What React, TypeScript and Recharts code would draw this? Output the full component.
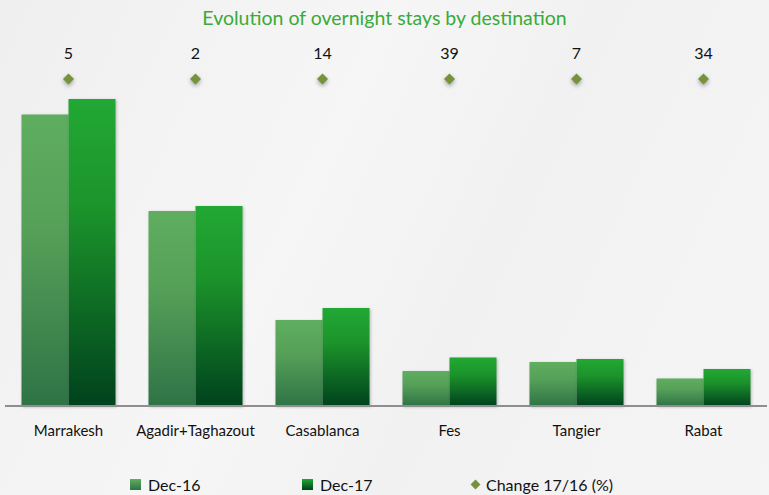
import React from "react";
import { BarChart, Bar, Line, XAxis, YAxis, LabelList } from "recharts";

const destinations = ["Marrakesh", "Agadir+Taghazout", "Casablanca", "Fes", "Tangier", "Rabat"];
const dec16 = [583, 390, 172, 70, 88, 55];
const dec17 = [614, 400, 196, 97, 94, 74];
const change = [5, 2, 14, 39, 7, 34];

// the change markers sit on one row above the bars (secondary axis 0..1)
const CHANGE_ROW = 0.8175;

const data = destinations.map((name, i) => ({
  name,
  dec16: dec16[i],
  dec17: dec17[i],
  change: change[i],
}));

const FONT = "Lato, 'Open Sans', sans-serif";

const Diamond = (props: any) => {
  const { cx, cy } = props;
  if (cx == null || cy == null) return null;
  const r = 5.5;
  return (
    <path
      d={`M${cx},${cy - r} L${cx + r},${cy} L${cx},${cy + r} L${cx - r},${cy} Z`}
      fill="#76933c"
      style={{ filter: "drop-shadow(0px 2px 2px rgba(0,0,0,0.35))" }}
    />
  );
};

function LegendRow() {
  const item = (label: string, marker: React.ReactNode, left: number) => (
    <div style={{ position: "absolute", left, top: 0, display: "flex", alignItems: "center", gap: 7 }}>
      {marker}
      <span>{label}</span>
    </div>
  );
  return (
    <div style={{ position: "absolute", left: 0, top: 475, width: 769, height: 20, fontFamily: FONT, fontSize: 16, color: "#111" }}>
      {item("Dec-16", <div style={{ width: 11, height: 11, background: "linear-gradient(#5fae5f, #2f7346)" }} />, 130)}
      {item("Dec-17", <div style={{ width: 11, height: 11, background: "linear-gradient(#22a834, #00421d)" }} />, 302)}
      {item("Change 17/16 (%)", <div style={{ width: 7, height: 7, background: "#76933c", transform: "rotate(45deg)", marginLeft: 2 }} />, 470)}
    </div>
  );
}

export default function App() {
  return (
    <div
      style={{
        position: "absolute",
        left: 0,
        top: 0,
        width: 769,
        height: 495,
        overflow: "hidden",
        background: "linear-gradient(115deg, #efefef 0%, #f6f6f6 40%, #f1f1f1 60%, #f5f5f5 100%)",
      }}
    >
      <div
        style={{
          position: "absolute",
          left: 0,
          top: 6,
          width: 769,
          textAlign: "center",
          fontFamily: FONT,
          fontSize: 19.5,
          color: "#3aaa3a",
        }}
      >
        Evolution of overnight stays by destination
      </div>
      <BarChart
        width={769}
        height={495}
        data={data}
        margin={{ top: 6, right: 2, left: 5, bottom: 59 }}
        barCategoryGap="13%"
        barGap={0}
        style={{ position: "absolute", left: 0, top: 0 }}
      >
        <defs>
          <linearGradient id="g16" x1="0" y1="0" x2="0" y2="1">
            <stop offset="0%" stopColor="#5fae5f" />
            <stop offset="40%" stopColor="#55a058" />
            <stop offset="100%" stopColor="#2f7346" />
          </linearGradient>
          <linearGradient id="g17" x1="0" y1="0" x2="0" y2="1">
            <stop offset="0%" stopColor="#22a834" />
            <stop offset="35%" stopColor="#1c942b" />
            <stop offset="100%" stopColor="#00421d" />
          </linearGradient>
        </defs>
        <XAxis
          dataKey="name"
          axisLine={{ stroke: "#8e8e8e", strokeWidth: 2 }}
          tickLine={false}
          tickMargin={13}
          tick={{ fill: "#111", fontSize: 15, fontFamily: FONT }}
          interval={0}
        />
        <YAxis yAxisId="left" hide domain={[0, 800]} />
        <YAxis yAxisId="pos" hide domain={[0, 1]} orientation="right" />
        <Bar
          yAxisId="left"
          dataKey="dec16"
          fill="url(#g16)"
          isAnimationActive={false}
          style={{ filter: "drop-shadow(1px 1px 1.5px rgba(0,0,0,0.25))" }}
        />
        <Bar
          yAxisId="left"
          dataKey="dec17"
          fill="url(#g17)"
          isAnimationActive={false}
          style={{ filter: "drop-shadow(1px 1px 1.5px rgba(0,0,0,0.25))" }}
        />
        <Line
          yAxisId="pos"
          dataKey={() => CHANGE_ROW}
          stroke="none"
          dot={<Diamond />}
          activeDot={false}
          isAnimationActive={false}
        >
          <LabelList
            dataKey="change"
            position="top"
            offset={20}
            style={{ fill: "#111", fontSize: 16, fontFamily: FONT }}
          />
        </Line>
      </BarChart>
      <LegendRow />
    </div>
  );
}
